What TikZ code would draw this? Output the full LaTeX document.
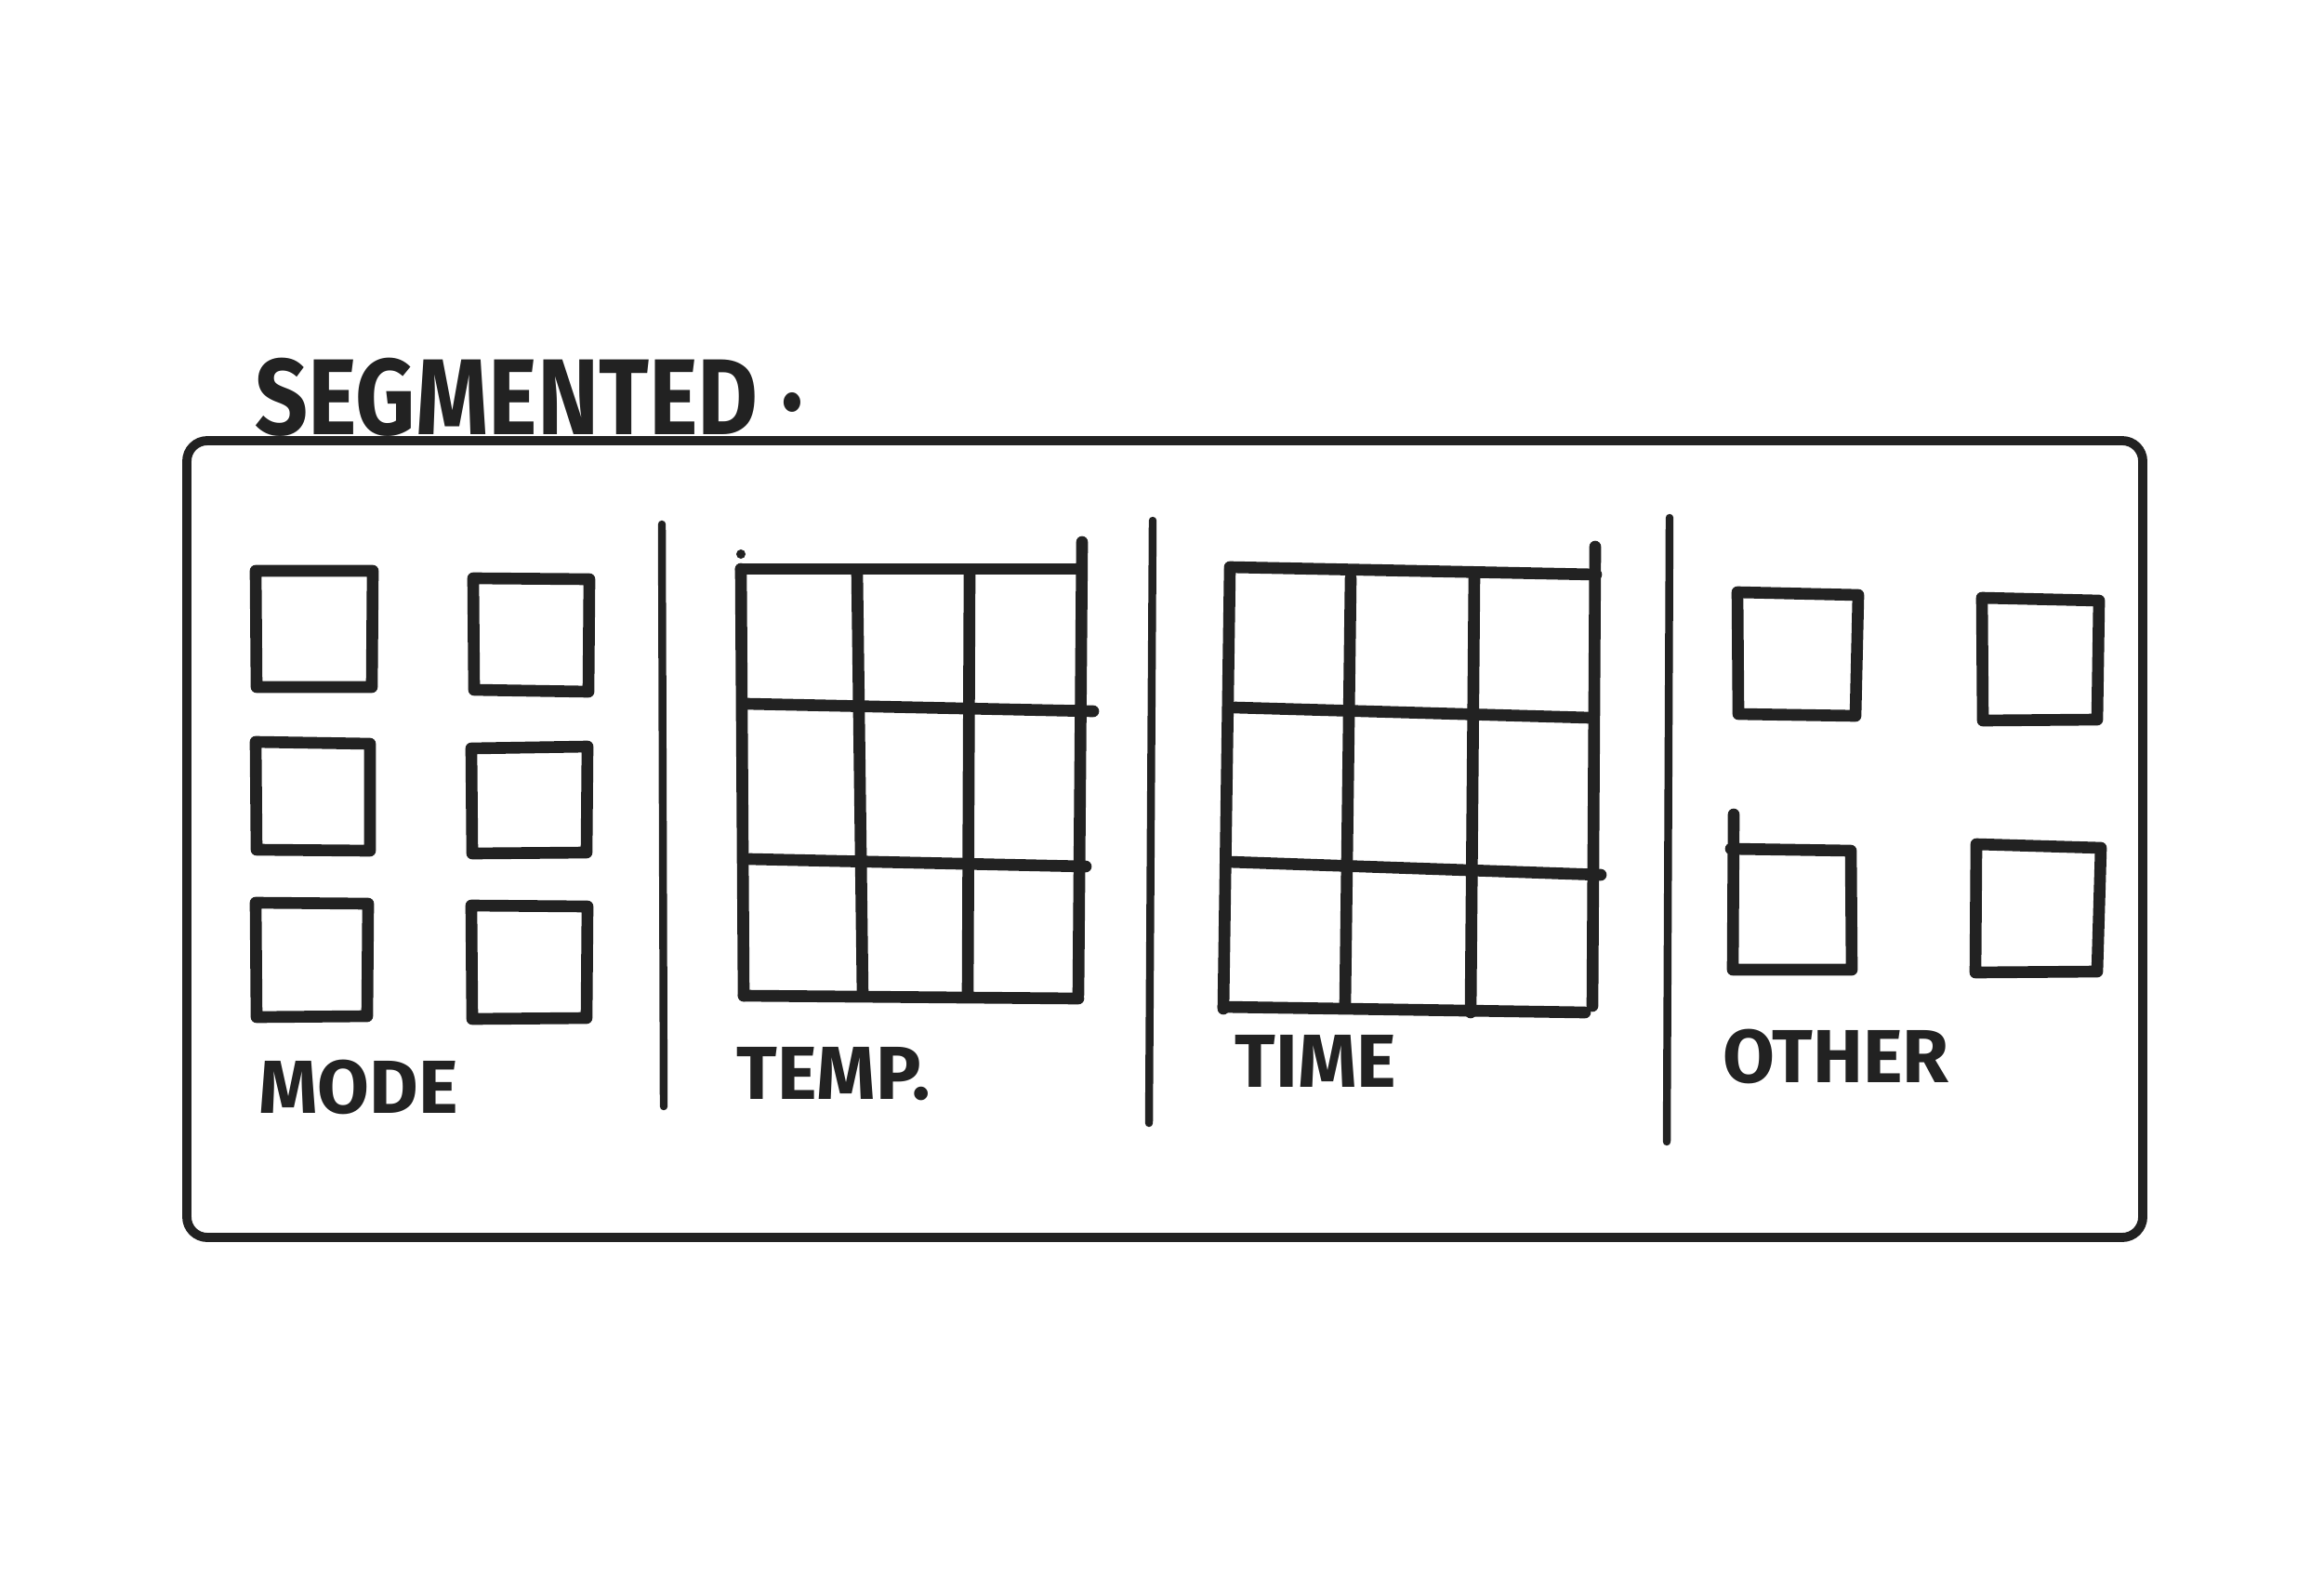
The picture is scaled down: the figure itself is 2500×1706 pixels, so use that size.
\documentclass[tikz,border=0pt]{standalone}
\usepackage{fontspec}
\setmainfont{Fira Sans}
\definecolor{ink}{HTML}{222222}
\begin{document}
\begin{tikzpicture}[x=0.01cm,y=-0.01cm,
  pen/.style={draw=ink,line width=3.6pt,line cap=round,line join=round},
  thinpen/.style={draw=ink,line width=2.4pt,line cap=round},
  framepen/.style={draw=ink,line width=2.8pt,rounded corners=0.22cm},
  lbl/.style={inner sep=0pt,anchor=base west,text=ink,xscale=1.0,font=\fontsize{23}{26}\selectfont\bfseries},
  ttl/.style={inner sep=0pt,anchor=base west,text=ink,xscale=0.86,font=\fontsize{33}{38}\selectfont\bfseries}]
\useasboundingbox (0,0) rectangle (2500,1706);
\fill[white] (0,0) rectangle (2500,1706);
% title
\node[ttl] (title) at (274,467) {SEGMENTED\hspace{0.25em}\raisebox{0.22em}{.}};
% outer frame
\draw[framepen] (201,474) rectangle (2305,1331);
% dividers
\draw[thinpen] (712,564) -- (714,1190);
\draw[thinpen] (1240,560) -- (1236,1208);
\draw[thinpen] (1796,557) -- (1793,1228);
% MODE squares
\draw[pen] (275,614) -- (401,614) -- (400,739) -- (276,739) -- cycle;
\draw[pen] (509,622) -- (634,623) -- (633,744) -- (510,742) -- cycle;
\draw[pen] (275,798) -- (398,800) -- (398,915) -- (276,914) -- cycle;
\draw[pen] (507,805) -- (632,803) -- (631,917) -- (508,918) -- cycle;
\draw[pen] (275,971) -- (396,972) -- (395,1093) -- (276,1094) -- cycle;
\draw[pen] (507,974) -- (632,975) -- (631,1095) -- (508,1096) -- cycle;
% TEMP grid
\draw[pen] (797,612) -- (1160,612);
\draw[pen] (797,612) -- (800,1071);
\draw[pen] (1164,583) -- (1160,1070);
\draw[pen] (800,1071) -- (1160,1074);
\draw[pen] (922,615) -- (928,1071);
\draw[pen] (1043,617) -- (1041,1072);
\draw[pen] (803,757) -- (1176,765);
\draw[pen] (806,924) -- (1168,932);
\fill[ink] (797,596) circle (5);
% TIME grid
\draw[pen] (1323,610) -- (1717,618);
\draw[pen] (1323,612) -- (1316,1085);
\draw[pen] (1716,588) -- (1713,1082);
\draw[pen] (1316,1083) -- (1705,1089);
\draw[pen] (1453,622) -- (1447,1080);
\draw[pen] (1586,616) -- (1582,1089);
\draw[pen] (1328,761) -- (1710,772);
\draw[pen] (1322,927) -- (1722,941);
% OTHER squares
\draw[pen] (1869,637) -- (1999,640) -- (1996,770) -- (1870,768) -- cycle;
\draw[pen] (2132,643) -- (2258,646) -- (2256,774) -- (2133,775) -- cycle;
\draw[pen] (1865,876) -- (1864,1043) -- (1992,1043) -- (1991,915) -- (1862,913);
\draw[pen] (2126,908) -- (2260,912) -- (2256,1045) -- (2125,1046) -- cycle;
% labels
\node[lbl] (mode) at (278,1197) {MODE};
\node[lbl] (temp) at (792,1182) {TEMP.};
\node[lbl] (time) at (1328,1169) {TIME};
\node[lbl] (other) at (1853,1164) {OTHER};
\end{tikzpicture}
\end{document}
